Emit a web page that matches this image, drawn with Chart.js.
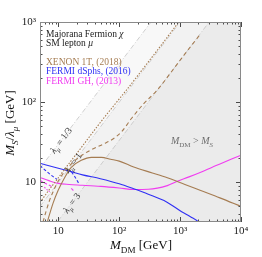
<!DOCTYPE html>
<html>
<head>
<meta charset="utf-8">
<script src="https://cdn.jsdelivr.net/npm/chart.js@4.4.0/dist/chart.umd.min.js"></script>
<style>
html, body { margin: 0; padding: 0; background: #fff; }
#grafico { display: block; }
</style>
</head>
<body>
<canvas id="grafico" width="262" height="257"></canvas>
<script>
// ==========================================
// Limites M_S/lambda vs M_DM (fermion de Majorana, muon)
// ==========================================

const rangoX = [5, 10000];
const rangoY = [3.2, 1000];

// diagonales M_DM = M_S para lambda = 1/3, 1, 3
const diagX = [5, 10000];
const diagLam13 = [15, 30000];
const diagLam1 = [5, 10000];
const diagLam3 = [1.667, 3333];

// XENON 1T (2018)
const xenonX = [6.6, 6.9, 8.2, 9.9, 12.8, 16.3, 23.8, 35, 51, 72, 100, 173, 350, 617, 1200, 2180, 4500, 10000];
const xenonY = [3.2, 3.6, 5.5, 7.9, 11.6, 15.4, 18.8, 20.5, 20.5, 19.4, 18.4, 15.5, 13.1, 11.4, 9.4, 7.9, 6.4, 5.0];
const xenonGuionX = [5.6, 6.2, 7.2, 8.3, 9.5, 11.5, 14, 20, 33, 55, 80, 110, 160, 250, 420, 700, 1200, 2200];
const xenonGuionY = [3.2, 4.2, 6.0, 7.8, 9.7, 12.3, 15, 19.5, 25, 30, 35, 43, 63, 95, 141, 233, 400, 720];
const xenonPuntoX = [5, 6, 7, 8.5, 10, 13, 17.5, 25, 35, 50, 80, 135, 250, 500, 950];
const xenonPuntoY = [5.6, 6.8, 8, 9.7, 11.4, 14.9, 20, 28.5, 40, 57, 89, 145, 265, 525, 1000];

// FERMI dSphs (2016)
const dsphX = [5, 10, 15.6, 25, 49, 100, 173, 300, 600, 1060, 1500, 2000, 2150];
const dsphY = [17.3, 15.0, 13.7, 12.4, 11.1, 9.6, 8.3, 7.1, 5.7, 4.3, 3.7, 3.2, 3.0];
const dsphGuion1X = [5, 6, 7.5, 9.5];
const dsphGuion1Y = [16.2, 14.3, 12.4, 10.9];
const dsphGuion2X = [16.5, 19, 22];
const dsphGuion2Y = [13.5, 11.5, 9.5];

// FERMI GH (2013)
const ghX = [5, 7, 10, 15, 25, 50, 100, 173, 300, 617, 900, 1400, 2180, 4000, 7000, 10000];
const ghY = [11.5, 10.5, 9.7, 9.4, 9.2, 8.9, 8.5, 8.15, 8.2, 9.1, 10.3, 11.7, 13.4, 16.3, 19.5, 21.8];
const ghGuion1X = [5, 6.3, 8.2];
const ghGuion1Y = [10.6, 9.6, 8.7];
const ghGuion2X = [5.9, 6.5, 7.2];
const ghGuion2Y = [8.7, 8.1, 7.6];
const ghGuion3X = [16.3, 17.4, 18.6];
const ghGuion3Y = [8.4, 8.0, 7.6];

const MARRON = "#a57c52";
const AZUL = "#3030f4";
const MAGENTA = "#f03cf0";
const FUENTE = '"Liberation Serif", "DejaVu Serif", serif';

function puntos(xs, ys) {
    return xs.map((x, i) => ({ x: x, y: ys[i] }));
}

function curva(xs, ys, color, guion, orden) {
    return {
        data: puntos(xs, ys),
        borderColor: color,
        borderWidth: 1.1,
        borderDash: guion || [],
        pointRadius: 0,
        cubicInterpolationMode: "monotone",
        fill: false,
        order: orden || 0
    };
}

function banda(ys, relleno, orden) {
    return {
        data: puntos(diagX, ys),
        borderColor: "#c4c4c4",
        borderWidth: 0.8,
        borderDash: [5, 2, 1, 2],
        backgroundColor: relleno,
        pointRadius: 0,
        fill: "start",
        order: orden
    };
}

function textoRico(ctx, partes, x, y, tam, color, alinear) {
    const medidas = partes.map(([t, e]) => {
        const sub = e.includes("sub");
        const it = e.startsWith("i");
        const size = sub ? tam * 0.7 : tam;
        const font = (it ? "italic " : "") + size + "px " + FUENTE;
        ctx.font = font;
        return { t, font, w: ctx.measureText(t).width, dy: sub ? tam * 0.28 : 0 };
    });
    const total = medidas.reduce((s, m) => s + m.w, 0);
    let cx = x;
    if (alinear === "center") cx = x - total / 2;
    if (alinear === "right") cx = x - total;
    ctx.fillStyle = color;
    ctx.textAlign = "left";
    ctx.textBaseline = "alphabetic";
    medidas.forEach(m => {
        ctx.font = m.font;
        ctx.fillText(m.t, cx, y + m.dy);
        cx += m.w;
    });
}

function esPotencia(v) {
    const l = Math.log10(v);
    return Math.abs(l - Math.round(l)) < 1e-9;
}

function etiquetaPotencia(v) {
    const sup = { 1: "", 2: "\u00b2", 3: "\u00b3", 4: "\u2074" };
    const e = Math.round(Math.log10(v));
    return "10" + sup[e];
}

const marcasEjes = {
    id: "marcasEjes",
    afterDraw(chart) {
        const { ctx, chartArea: a, scales: { x, y } } = chart;
        ctx.save();
        ctx.strokeStyle = "#4a4a4a";
        ctx.lineWidth = 1;
        ctx.beginPath();
        for (let e = 0; e <= 4; e++) {
            for (let m = 1; m <= 9; m++) {
                const v = m * Math.pow(10, e);
                if (v < rangoX[0] || v > rangoX[1]) continue;
                const px = Math.round(x.getPixelForValue(v)) + 0.5;
                const l = m === 1 ? 5 : 2.5;
                ctx.moveTo(px, a.bottom); ctx.lineTo(px, a.bottom - l);
                ctx.moveTo(px, a.top); ctx.lineTo(px, a.top + l);
            }
        }
        for (let e = 0; e <= 3; e++) {
            for (let m = 1; m <= 9; m++) {
                const v = m * Math.pow(10, e);
                if (v < rangoY[0] || v > rangoY[1]) continue;
                const py = Math.round(y.getPixelForValue(v)) + 0.5;
                const l = m === 1 ? 5 : 2.5;
                ctx.moveTo(a.left, py); ctx.lineTo(a.left + l, py);
                ctx.moveTo(a.right, py); ctx.lineTo(a.right - l, py);
            }
        }
        ctx.stroke();
        ctx.strokeStyle = "#8a8a8a";
        ctx.strokeRect(a.left + 0.5, a.top + 0.5, a.right - a.left - 1, a.bottom - a.top - 1);
        ctx.restore();
    }
};

const textos = {
    id: "textos",
    afterDraw(chart) {
        const { ctx, chartArea: a, scales: { x, y } } = chart;
        ctx.save();

        // leyenda
        textoRico(ctx, [["Majorana Fermion ", "n"], ["\u03c7", "i"]], 46, 36.5, 9.5, "#222", "left");
        textoRico(ctx, [["SM lepton ", "n"], ["\u03bc", "i"]], 46, 46, 9.5, "#222", "left");
        textoRico(ctx, [["XENON 1T, (2018)", "n"]], 46, 64.5, 9.5, MARRON, "left");
        textoRico(ctx, [["FERMI dSphs, (2016)", "n"]], 46, 74, 9.5, AZUL, "left");
        textoRico(ctx, [["FERMI GH, (2013)", "n"]], 46, 83.5, 9.5, MAGENTA, "left");

        // region prohibida
        textoRico(ctx, [["M", "i"], ["DM", "sub"], [" > ", "n"], ["M", "i"], ["S", "isub"]],
            192, 144, 10, "#6e6e6e", "center");

        // etiquetas de lambda sobre las diagonales
        [[11.1, 3, "1/3"], [17.5, 1, "1"], [16.6, 1 / 3, "3"]].forEach(([xv, f, txt]) => {
            const px = x.getPixelForValue(xv);
            const py = y.getPixelForValue(xv * f);
            const ang = Math.atan2(
                y.getPixelForValue(100 * f) - y.getPixelForValue(10 * f),
                x.getPixelForValue(100) - x.getPixelForValue(10)
            );
            ctx.save();
            ctx.translate(px, py);
            ctx.rotate(ang);
            textoRico(ctx, [["\u03bb", "i"], ["\u03bc", "isub"], [" = " + txt, "n"]], 0, 3, 9.5, "#333", "center");
            ctx.restore();
        });

        // titulos de ejes
        textoRico(ctx, [["M", "i"], ["DM", "sub"], [" [GeV]", "n"]], 141, 249, 13, "#111", "center");
        ctx.translate(14, 123);
        ctx.rotate(-Math.PI / 2);
        textoRico(ctx, [["M", "i"], ["S", "isub"], ["/", "n"], ["\u03bb", "i"], ["\u03bc", "isub"], [" [GeV]", "n"]],
            0, 0, 13, "#111", "center");
        ctx.restore();
    }
};

new Chart(document.getElementById("grafico"), {
    type: "line",
    data: {
        datasets: [
            banda(diagLam13, "#f8f8f8", 30),
            banda(diagLam1, "#f2f2f2", 29),
            banda(diagLam3, "#ebebeb", 28),
            curva(xenonPuntoX, xenonPuntoY, MARRON, [1.5, 1.5]),
            curva(xenonGuionX, xenonGuionY, MARRON, [4, 3]),
            curva(xenonX, xenonY, MARRON),
            curva(dsphGuion1X, dsphGuion1Y, AZUL, [3, 2]),
            curva(dsphGuion2X, dsphGuion2Y, AZUL, [3, 2]),
            curva(dsphX, dsphY, AZUL),
            curva(ghGuion1X, ghGuion1Y, MAGENTA, [3, 2]),
            curva(ghGuion2X, ghGuion2Y, MAGENTA, [1.5, 1.5]),
            curva(ghGuion3X, ghGuion3Y, MAGENTA, [3, 2]),
            curva(ghX, ghY, MAGENTA)
        ]
    },
    options: {
        responsive: false,
        animation: false,
        devicePixelRatio: 1,
        layout: { padding: { top: 22, right: 21, left: 0, bottom: 0 } },
        plugins: {
            legend: { display: false },
            tooltip: { enabled: false }
        },
        scales: {
            x: {
                type: "logarithmic",
                min: rangoX[0],
                max: rangoX[1],
                grid: { display: false, drawTicks: false },
                border: { display: false },
                ticks: {
                    autoSkip: false,
                    maxRotation: 0,
                    padding: 3,
                    color: "#222",
                    font: { family: FUENTE, size: 11 },
                    callback: v => esPotencia(v) ? etiquetaPotencia(v) : ""
                },
                afterFit: s => { s.height = 35; }
            },
            y: {
                type: "logarithmic",
                min: rangoY[0],
                max: rangoY[1],
                grid: { display: false, drawTicks: false },
                border: { display: false },
                ticks: {
                    autoSkip: false,
                    padding: 4,
                    color: "#222",
                    font: { family: FUENTE, size: 11 },
                    callback: v => esPotencia(v) ? etiquetaPotencia(v) : ""
                },
                afterFit: s => { s.width = 40; }
            }
        }
    },
    plugins: [marcasEjes, textos]
});
</script>
</body>
</html>
